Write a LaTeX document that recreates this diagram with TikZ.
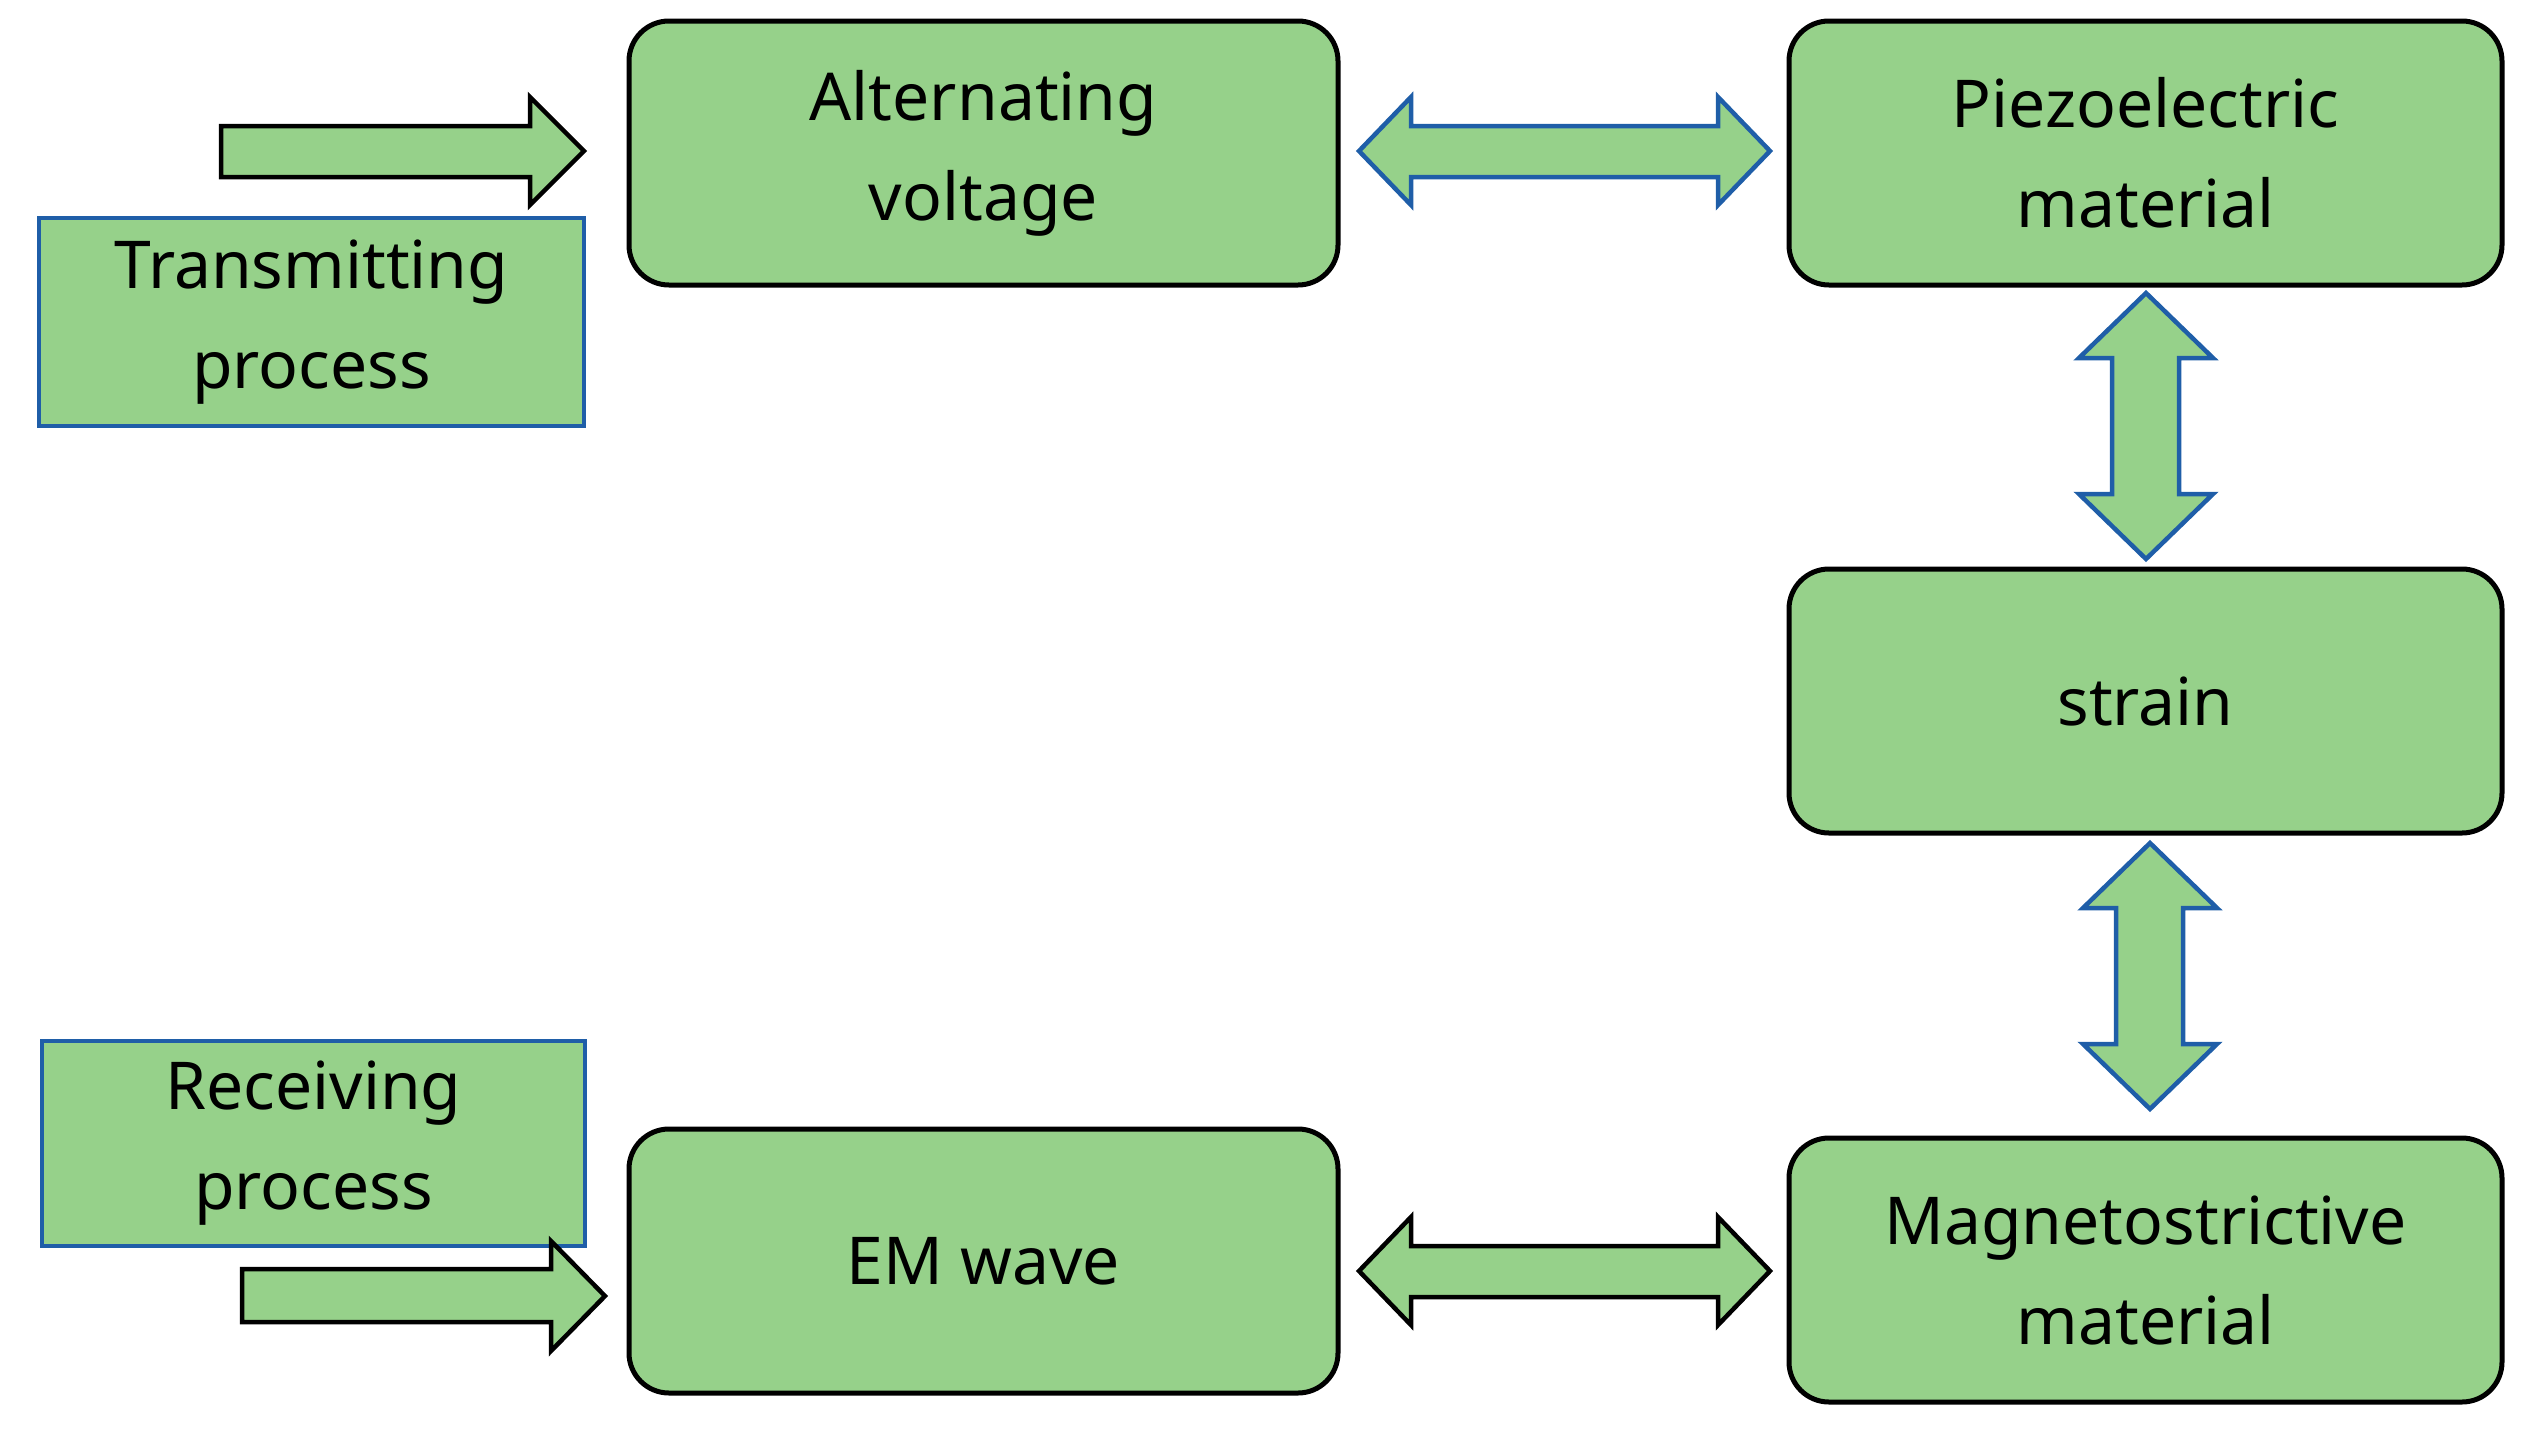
\documentclass[tikz,border=0pt]{standalone}
\usepackage{fontspec}
\setmainfont{Noto Sans}
\begin{document}
\definecolor{gr}{HTML}{96D18A}
\definecolor{bl}{HTML}{1F5EA8}
\begin{tikzpicture}[x=1pt,y=-1pt,
 box/.style={draw=black,line width=5pt,fill=gr,rounded corners=40pt,align=center,font=\fontsize{66}{100}\selectfont},
 lab/.style={draw=bl,line width=4.5pt,fill=gr,align=center,font=\fontsize{66}{100}\selectfont},
 arr/.style={fill=gr,line width=4.5pt,line join=miter}]
\useasboundingbox (0,0) rectangle (2528,1433);
\node[box,minimum width=709pt,minimum height=264pt] (av) at (983.5,153) {Alternating\\voltage};
\node[box,minimum width=713pt,minimum height=264pt] (pm) at (2145.5,153) {Piezoelectric\\material};
\node[box,minimum width=713pt,minimum height=264pt] (st) at (2145.5,701) {strain};
\node[box,minimum width=713pt,minimum height=264pt] (mm) at (2145.5,1270) {Magnetostrictive\\material};
\node[box,minimum width=709pt,minimum height=264pt] (em) at (983.5,1261) {EM wave};
\node[lab,minimum width=545pt,minimum height=208pt] (tp) at (311.5,322) {Transmitting\\process};
\node[lab,minimum width=543pt,minimum height=205pt] (rp) at (313.5,1143.5) {Receiving\\process};
% single arrows
\draw[arr,draw=black] (221,126)--(530,126)--(530,97)--(584,151)--(530,205)--(530,177)--(221,177)--cycle;
\draw[arr,draw=black] (242,1269)--(551,1269)--(551,1241)--(605,1296)--(551,1351)--(551,1322)--(242,1322)--cycle;
% horizontal double arrows
\draw[arr,draw=bl] (1359,151)--(1411,97)--(1411,126)--(1718,126)--(1718,97)--(1770,151)--(1718,205)--(1718,177)--(1411,177)--(1411,205)--cycle;
\draw[arr,draw=black] (1359,1271)--(1411,1217)--(1411,1246)--(1718,1246)--(1718,1217)--(1770,1271)--(1718,1325)--(1718,1297)--(1411,1297)--(1411,1325)--cycle;
% vertical double arrows
\draw[arr,draw=bl] (2146,293)--(2213,358)--(2179,358)--(2179,494)--(2213,494)--(2146,559)--(2079,494)--(2112,494)--(2112,358)--(2079,358)--cycle;
\draw[arr,draw=bl] (2150,843)--(2217,908)--(2183,908)--(2183,1044)--(2217,1044)--(2150,1109)--(2083,1044)--(2116,1044)--(2116,908)--(2083,908)--cycle;
\end{tikzpicture}
\end{document}
